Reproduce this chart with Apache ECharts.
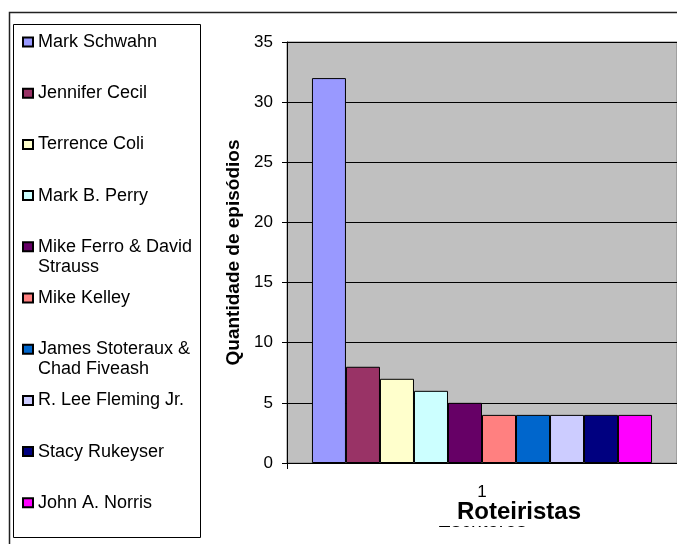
<!DOCTYPE html>
<html>
<head>
<meta charset="utf-8">
<script src="https://cdn.jsdelivr.net/npm/echarts@6/dist/echarts.min.js"></script>
<style>
  html, body { margin: 0; padding: 0; background: #fff; }
  #chart { width: 677px; height: 544px; }
</style>
</head>
<body>
<div id="chart"></div>
<script>
// dados
const categories = ["1"];
const writers = [
  "Mark Schwahn", "Jennifer Cecil", "Terrence Coli", "Mark B. Perry",
  "Mike Ferro & David Strauss", "Mike Kelley", "James Stoteraux & Chad Fiveash",
  "R. Lee Fleming Jr.", "Stacy Rukeyser", "John A. Norris"
];
const legendLabels = [
  "Mark Schwahn", "Jennifer Cecil", "Terrence Coli", "Mark B. Perry",
  "Mike Ferro & David\nStrauss", "Mike Kelley", "James Stoteraux &\nChad Fiveash",
  "R. Lee Fleming Jr.", "Stacy Rukeyser", "John A. Norris"
];
const episodes = [32, 8, 7, 6, 5, 4, 4, 4, 4, 4];
const colors = ["#9999FF", "#993366", "#FFFFCC", "#CCFFFF", "#660066",
                "#FF8080", "#0066CC", "#CCCCFF", "#000080", "#FF00FF"];

const font = "Liberation Sans, Arial, sans-serif";
const myChart = echarts.init(document.getElementById("chart"));

let series = writers.map((name, i) => {
  return {
    name: name,
    type: "bar",
    data: [episodes[i]],
    barGap: 0,
    barCategoryGap: "12.8%",
    itemStyle: {
      color: colors[i],
      borderColor: "#000",
      borderWidth: 1
    }
  };
});

// uma legenda por item, para manter o espaçamento fixo
let legends = writers.map((name, i) => {
  let twoLines = legendLabels[i].indexOf("\n") >= 0;
  let iconCenter = 42 + i * 51.2;
  return {
    data: [name],
    orient: "vertical",
    left: 22,
    top: iconCenter - (twoLines ? 30 : 10),
    padding: 0,
    icon: "rect",
    itemWidth: 10,
    itemHeight: 9,
    selectedMode: false,
    // linha vazia em cima: a primeira linha do texto fica alinhada com o ícone
    formatter: () => (twoLines ? "\n" : "") + legendLabels[i],
    textStyle: {
      fontFamily: font,
      fontSize: 18,
      lineHeight: 20,
      color: "#000"
    }
  };
});

let option = {
  animation: false,
  backgroundColor: "#fff",
  title: {
    text: "Roteiristas",
    left: 435,
    top: 498,
    padding: [2, 22, 2, 22],
    backgroundColor: "#fff",
    textStyle: {
      fontFamily: font,
      fontSize: 24,
      fontWeight: "bold",
      color: "#000"
    }
  },
  legend: legends,
  grid: {
    left: 287,
    top: 42,
    right: 0,
    bottom: 81,
    show: true,
    backgroundColor: "#C0C0C0",
    borderColor: "#808080",
    borderWidth: 1
  },
  xAxis: {
    type: "category",
    data: categories,
    name: "Escritores",
    nameLocation: "middle",
    nameGap: 48,
    nameTextStyle: { fontFamily: font, fontSize: 20, color: "#000" },
    axisLine: { lineStyle: { color: "#000", width: 1 } },
    axisTick: { show: true, length: 6, lineStyle: { color: "#000" } },
    axisLabel: { fontFamily: font, fontSize: 17, color: "#000", margin: 21 }
  },
  yAxis: {
    type: "value",
    min: 0,
    max: 35,
    interval: 5,
    name: "Quantidade de episódios",
    nameLocation: "middle",
    nameRotate: 90,
    nameGap: 40,
    nameTextStyle: { fontFamily: font, fontSize: 19, fontWeight: "bold", color: "#000" },
    axisLine: { show: true, lineStyle: { color: "#000", width: 1 } },
    axisTick: { show: true, length: 5, lineStyle: { color: "#000" } },
    axisLabel: { fontFamily: font, fontSize: 17, color: "#000", margin: 14 },
    splitLine: { show: true, lineStyle: { color: "#000", width: 1 } }
  },
  graphic: [
    {
      type: "rect",
      shape: { x: 13.5, y: 24.5, width: 187, height: 513 },
      style: { fill: "none", stroke: "#000", lineWidth: 1 },
      z: 0
    },
    {
      type: "polyline",
      shape: { points: [[9.5, 544], [9.5, 12.5], [677, 12.5]] },
      style: { fill: "none", stroke: "#222", lineWidth: 1.5 },
      z: 0
    }
  ],
  series: series
};

myChart.setOption(option);
window.addEventListener("resize", () => {
  myChart.resize();
});
</script>
</body>
</html>
